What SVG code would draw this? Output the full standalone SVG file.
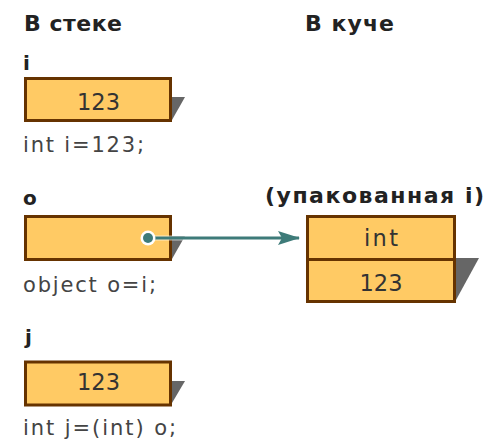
<svg xmlns="http://www.w3.org/2000/svg" width="498" height="441" viewBox="0 0 498 441">
<style>
.h{font-family:"DejaVu Sans","Verdana",sans-serif;font-weight:bold;font-size:22px;fill:#222}
.v{font-family:"DejaVu Sans","Verdana",sans-serif;font-weight:bold;font-size:20px;fill:#222}
.c{font-family:"DejaVu Sans","Verdana",sans-serif;font-size:21px;fill:#444}
.b{font-family:"DejaVu Sans","Verdana",sans-serif;font-size:22.5px;fill:#333;text-anchor:middle}
.box{fill:#FFCA64;stroke:#663300;stroke-width:3}
.sh{fill:#666}
</style>
<defs>
<marker id="ah" markerWidth="22" markerHeight="14" refX="21" refY="7" orient="auto" markerUnits="userSpaceOnUse">
<path d="M0,0 L22,7 L0,14 L4,7 Z" fill="#3E7B79"/>
</marker>
</defs>
<text class="h" x="24" y="31" textLength="98" lengthAdjust="spacing">В стеке</text>
<text class="h" x="305" y="31" textLength="89" lengthAdjust="spacing">В куче</text>
<g id="node-i">
<text class="v" x="23" y="70">i</text>
<polygon class="sh" points="172,97 185,97 172,120"/>
<rect class="box" x="25.5" y="78.5" width="145" height="42"/>
<text class="b" x="98.5" y="109.5" textLength="43" lengthAdjust="spacing">123</text>
<text class="c" x="23" y="152" textLength="121" lengthAdjust="spacing">int i=123;</text>
</g>
<g id="node-o">
<text class="v" x="23" y="205">o</text>
<polygon class="sh" points="172,236 185,236 172,259"/>
<rect class="box" x="25.5" y="216.5" width="145" height="43"/>
<text class="c" x="23" y="292" textLength="133" lengthAdjust="spacing">object o=i;</text>
</g>
<g id="node-j">
<text class="v" x="25" y="344">j</text>
<polygon class="sh" points="172,381 185,381 172,403"/>
<rect class="box" x="25.5" y="362" width="145" height="43"/>
<text class="b" x="98.5" y="390" textLength="43" lengthAdjust="spacing">123</text>
<text class="c" x="23" y="435" textLength="153" lengthAdjust="spacing">int j=(int) o;</text>
</g>
<g id="node-boxed">
<text class="h" x="265" y="203" textLength="219" lengthAdjust="spacing">(упакованная i)</text>
<polygon class="sh" points="456,258 479,258 456,300"/>
<rect class="box" x="307.5" y="216.5" width="147" height="85"/>
<line x1="306" y1="259.5" x2="456" y2="259.5" stroke="#663300" stroke-width="3"/>
<text class="b" x="381" y="245.5" textLength="34" lengthAdjust="spacing">int</text>
<text class="b" x="381" y="290.5" textLength="43" lengthAdjust="spacing">123</text>
</g>
<g id="connectors">
<line x1="148" y1="238" x2="299" y2="238" stroke="#fff" stroke-width="5" opacity="0.6"/>
<line x1="148" y1="238" x2="299" y2="238" stroke="#3E7B79" stroke-width="3" marker-end="url(#ah)"/>
<circle cx="148" cy="238" r="7.5" fill="#fff"/>
<circle cx="148" cy="238" r="5" fill="#3E7B79"/>
</g>
</svg>
